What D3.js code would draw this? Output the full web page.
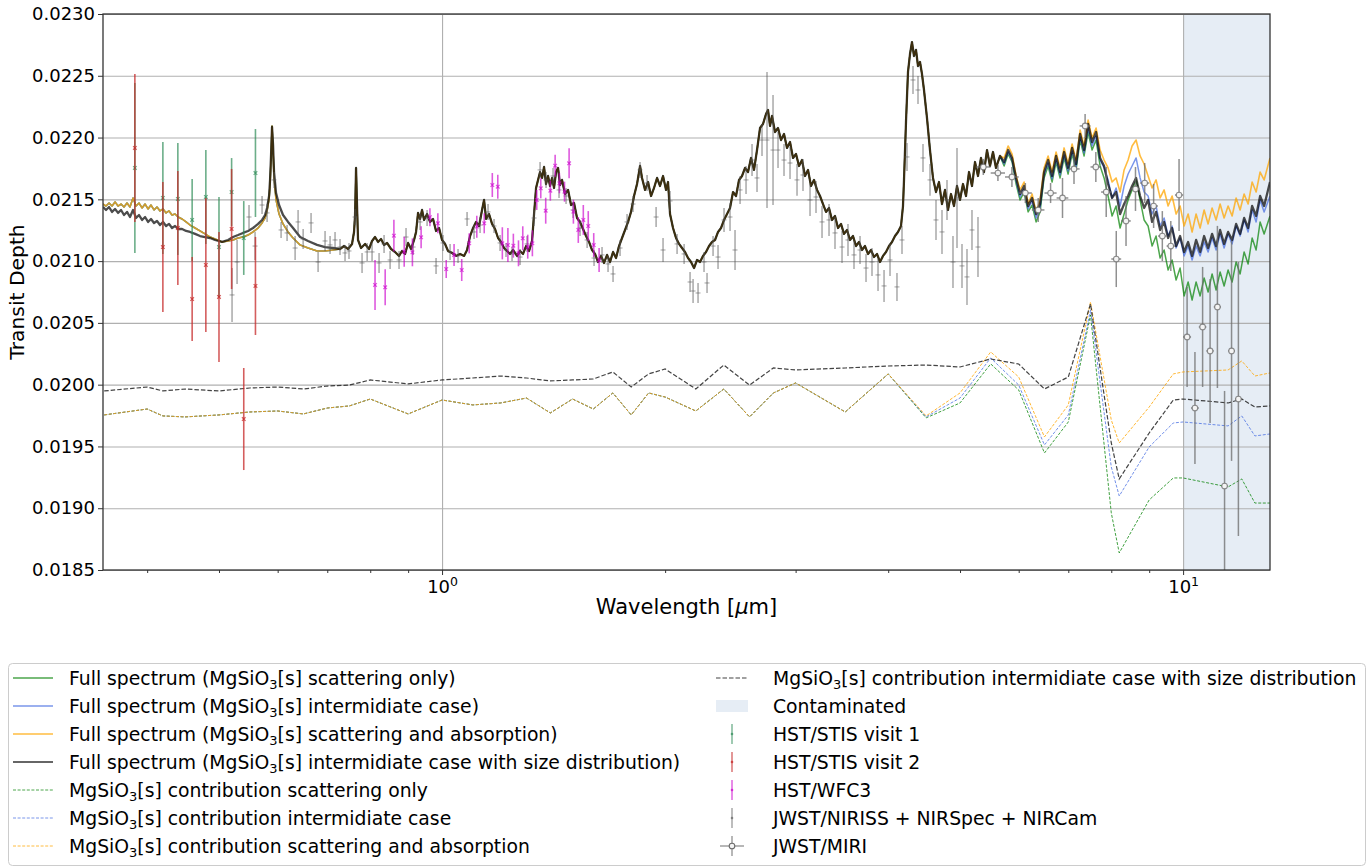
<!DOCTYPE html>
<html>
<head>
<meta charset="utf-8">
<script src="https://cdn.jsdelivr.net/npm/d3@7"></script>
<style>
  body { margin: 0; background: #fff; }
  svg { display: block; font-family: "DejaVu Sans", sans-serif; }
</style>
</head>
<body>
<svg id="chart" width="1372" height="867"></svg>
<script>
// ---------------- axis ticks ----------------
const yTicks = [0.0185, 0.0190, 0.0195, 0.0200, 0.0205, 0.0210, 0.0215, 0.0220, 0.0225, 0.0230];
const xMajorTicks = [1, 10];
const xMinorTicks = [0.4, 0.5, 0.6, 0.7, 0.8, 0.9, 2, 3, 4, 5, 6, 7, 8, 9];
const waveDomain = [0.3487, 13.1];
const contaminatedRange = [10, 13.1];

// ---------------- model spectra (wavelength in micron, transit depth) ----------------
// optical part: the three single-size models coincide here, the size-distribution model differs
const visWave = [0.3487,0.3520,0.3553,0.3586,0.3620,0.3654,0.3688,0.3722,0.3757,0.3792,0.3828,0.3864,0.3900,0.3937,0.3974,0.4011,0.4048,0.4086,0.4124,0.4163,0.4202,0.4242,0.4281,0.4321,0.4362,0.4403,0.4458,0.4514,0.4570,0.4642,0.4714,0.4788,0.4863,0.4939,0.5048,0.5143,0.5223,0.5305,0.5388,0.5473,0.5558,0.5646,0.5716,0.5770,0.5806,0.5842,0.5860,0.5878,0.5896,0.5915,0.5933,0.5970,0.6026,0.6101,0.6197,0.6294,0.6433,0.6594,0.6781,0.6952,0.7126,0.7283];
const visSingleSize = [0.021462,0.021446,0.021470,0.021446,0.021479,0.021446,0.021462,0.021438,0.021470,0.021438,0.021511,0.021446,0.021470,0.021430,0.021462,0.021422,0.021454,0.021414,0.021438,0.021406,0.021422,0.021390,0.021406,0.021373,0.021381,0.021357,0.021341,0.021317,0.021292,0.021268,0.021244,0.021220,0.021195,0.021179,0.021155,0.021163,0.021171,0.021187,0.021195,0.021211,0.021236,0.021268,0.021309,0.021349,0.021406,0.021503,0.021624,0.021835,0.022094,0.021899,0.021673,0.021495,0.021381,0.021301,0.021236,0.021187,0.021131,0.021106,0.021082,0.021082,0.021090,0.021098];
const visSizeDist = [0.021438,0.021414,0.021438,0.021398,0.021422,0.021390,0.021414,0.021373,0.021398,0.021357,0.021414,0.021349,0.021373,0.021333,0.021357,0.021317,0.021341,0.021309,0.021325,0.021292,0.021317,0.021284,0.021301,0.021268,0.021284,0.021260,0.021260,0.021244,0.021236,0.021220,0.021203,0.021195,0.021187,0.021171,0.021155,0.021171,0.021195,0.021211,0.021228,0.021244,0.021268,0.021301,0.021333,0.021373,0.021430,0.021527,0.021657,0.021859,0.022086,0.021940,0.021721,0.021551,0.021454,0.021373,0.021317,0.021268,0.021195,0.021163,0.021131,0.021114,0.021106,0.021098];

// near-infrared part shared by all four models
const midWave = [0.7374,0.7467,0.7560,0.7607,0.7631,0.7655,0.7678,0.7702,0.7775,0.7872,0.7970,0.8045,0.8120,0.8196,0.8273,0.8351,0.8429,0.8534,0.8641,0.8749,0.8831,0.8914,0.8997,0.9082,0.9167,0.9224,0.9281,0.9339,0.9397,0.9456,0.9545,0.9634,0.9724,0.9815,0.9907,1.0000,1.0094,1.0188,1.0316,1.0445,1.0575,1.0707,1.0808,1.0909,1.1011,1.1114,1.1218,1.1323,1.1394,1.1465,1.1572,1.1681,1.1790,1.1900,1.2012,1.2124,1.2238,1.2352,1.2468,1.2624,1.2742,1.2861,1.2982,1.3104,1.3226,1.3309,1.3392,1.3475,1.3559,1.3644,1.3729,1.3814,1.3900,1.3987,1.4074,1.4162,1.4250,1.4339,1.4428,1.4518,1.4654,1.4792,1.4930,1.5070,1.5211,1.5353,1.5497,1.5642,1.5789,1.5936,1.6086,1.6236,1.6389,1.6542,1.6697,1.6853,1.7011,1.7170,1.7331,1.7493,1.7657,1.7823,1.7989,1.8158,1.8328,1.8500,1.8615,1.8789,1.8965,1.9143,1.9322,1.9503,1.9685,1.9870,2.0056,2.0181,2.0307,2.0497,2.0689,2.0883,2.1078,2.1275,2.1475,2.1676,2.1879,2.2084,2.2290,2.2499,2.2710,2.2923,2.3137,2.3354,2.3573,2.3793,2.4016,2.4241,2.4468,2.4697,2.4928,2.5162,2.5397,2.5635,2.5875,2.6118,2.6362,2.6609,2.6858,2.7109,2.7363,2.7534,2.7706,2.7878,2.8139,2.8403,2.8669,2.8937,2.9208,2.9482,2.9758,3.0036,3.0318,3.0601,3.0888,3.1177,3.1469,3.1764,3.2062,3.2362,3.2664,3.2970,3.3280,3.3591,3.3905,3.4223,3.4544,3.4867,3.5194,3.5523,3.5855,3.6191,3.6530,3.6872,3.7217,3.7566,3.7918,3.8273,3.8632,3.8993,3.9358,3.9727,4.0099,4.0474,4.0853,4.1236,4.1622,4.1881,4.2012,4.2273,4.2537,4.2802,4.3069,4.3337,4.3607,4.3879,4.4153,4.4428,4.4705,4.5124,4.5546,4.5972,4.6403,4.6838,4.7276,4.7719,4.8166,4.8617,4.9072,4.9532,4.9996,5.0463,5.0936,5.1413,5.1894,5.2380,5.2871,5.3366,5.3866,5.4371,5.4880,5.5393,5.5912,5.6612];
const midDepth = [0.021122,0.021098,0.021139,0.021236,0.021373,0.021754,0.021454,0.021171,0.021106,0.021139,0.021098,0.021163,0.021195,0.021155,0.021179,0.021131,0.021147,0.021098,0.021074,0.021042,0.021082,0.021058,0.021147,0.021098,0.021171,0.021236,0.021390,0.021341,0.021414,0.021333,0.021381,0.021317,0.021341,0.021244,0.021268,0.021171,0.021139,0.021082,0.021066,0.021042,0.021058,0.021042,0.021090,0.021203,0.021268,0.021317,0.021284,0.021414,0.021495,0.021341,0.021381,0.021301,0.021260,0.021187,0.021155,0.021106,0.021082,0.021058,0.021090,0.021042,0.021082,0.021058,0.021122,0.021082,0.021163,0.021381,0.021592,0.021657,0.021721,0.021673,0.021762,0.021624,0.021689,0.021608,0.021673,0.021592,0.021721,0.021754,0.021616,0.021657,0.021543,0.021576,0.021454,0.021470,0.021349,0.021317,0.021260,0.021203,0.021155,0.021090,0.021058,0.020993,0.021042,0.020985,0.021050,0.020993,0.021074,0.021025,0.021122,0.021187,0.021252,0.021317,0.021398,0.021527,0.021624,0.021770,0.021673,0.021576,0.021640,0.021527,0.021592,0.021673,0.021608,0.021689,0.021576,0.021640,0.021381,0.021268,0.021187,0.021139,0.021106,0.021074,0.021025,0.020993,0.020944,0.021009,0.020993,0.021042,0.021074,0.021122,0.021155,0.021171,0.021236,0.021268,0.021333,0.021381,0.021430,0.021559,0.021527,0.021657,0.021689,0.021754,0.021721,0.021835,0.021738,0.021899,0.022077,0.022110,0.022191,0.022223,0.022094,0.022175,0.022045,0.022077,0.021980,0.022029,0.021916,0.021964,0.021835,0.021867,0.021770,0.021818,0.021689,0.021738,0.021608,0.021657,0.021576,0.021527,0.021462,0.021398,0.021430,0.021333,0.021365,0.021268,0.021301,0.021220,0.021252,0.021171,0.021203,0.021122,0.021155,0.021090,0.021122,0.021058,0.021090,0.021033,0.021058,0.020993,0.021042,0.021074,0.021122,0.021155,0.021203,0.021236,0.021284,0.021446,0.021657,0.022126,0.022531,0.022676,0.022773,0.022660,0.022709,0.022579,0.022612,0.022514,0.022385,0.022158,0.021899,0.021673,0.021559,0.021640,0.021462,0.021576,0.021414,0.021543,0.021446,0.021608,0.021495,0.021624,0.021527,0.021721,0.021608,0.021802,0.021689,0.021835,0.021721,0.021899,0.021770,0.021883,0.021754,0.021851];

// mid-infrared part, where the cloud treatments separate
const tailWave = [5.734,5.806,5.878,5.952,6.026,6.101,6.178,6.255,6.333,6.412,6.492,6.574,6.656,6.739,6.823,6.909,6.995,7.083,7.171,7.261,7.352,7.444,7.537,7.631,7.727,7.823,7.921,8.020,8.120,8.222,8.325,8.429,8.534,8.641,8.749,8.859,8.970,9.082,9.195,9.311,9.427,9.545,9.664,9.785,9.907,10.031,10.157,10.284,10.412,10.543,10.675,10.808,10.943,11.080,11.219,11.359,11.501,11.645,11.791,11.938,12.088,12.239,12.392,12.547,12.704,12.863,13.1];
const tailScatter = [0.021770,0.021867,0.021802,0.021624,0.021495,0.021559,0.021398,0.021454,0.021317,0.021398,0.021673,0.021770,0.021640,0.021802,0.021673,0.021835,0.021705,0.021867,0.021738,0.021980,0.021851,0.022045,0.021899,0.021980,0.021770,0.021673,0.021527,0.021365,0.021446,0.021268,0.021381,0.021495,0.021576,0.021657,0.021495,0.021333,0.021284,0.021122,0.021203,0.021025,0.021090,0.020928,0.021009,0.020847,0.020944,0.020718,0.020831,0.020685,0.020831,0.020718,0.020863,0.020750,0.020896,0.020766,0.020912,0.020799,0.020928,0.020831,0.020993,0.020896,0.021074,0.020977,0.021187,0.021090,0.021317,0.021220,0.021365];
const tailInter = [0.021786,0.021883,0.021818,0.021648,0.021519,0.021584,0.021422,0.021487,0.021349,0.021430,0.021697,0.021794,0.021665,0.021826,0.021697,0.021859,0.021729,0.021891,0.021762,0.022004,0.021875,0.022077,0.021932,0.022013,0.021818,0.021754,0.021657,0.021511,0.021592,0.021446,0.021608,0.021705,0.021770,0.021835,0.021673,0.021559,0.021527,0.021381,0.021446,0.021284,0.021349,0.021203,0.021284,0.021106,0.021187,0.021042,0.021122,0.021009,0.021122,0.021042,0.021155,0.021074,0.021187,0.021090,0.021220,0.021106,0.021220,0.021139,0.021284,0.021203,0.021333,0.021236,0.021414,0.021317,0.021495,0.021398,0.021527];
const tailAbs = [0.021835,0.021932,0.021867,0.021689,0.021576,0.021640,0.021462,0.021543,0.021398,0.021495,0.021754,0.021851,0.021721,0.021883,0.021754,0.021916,0.021786,0.021948,0.021818,0.022061,0.021932,0.022142,0.021996,0.022077,0.021899,0.021818,0.021754,0.021640,0.021673,0.021559,0.021738,0.021818,0.021932,0.021980,0.021851,0.021786,0.021689,0.021592,0.021657,0.021511,0.021576,0.021446,0.021527,0.021381,0.021446,0.021284,0.021381,0.021236,0.021381,0.021268,0.021414,0.021301,0.021430,0.021333,0.021462,0.021349,0.021446,0.021365,0.021511,0.021414,0.021543,0.021462,0.021640,0.021559,0.021721,0.021657,0.021835];
const tailSizeDist = [0.021802,0.021899,0.021835,0.021673,0.021543,0.021608,0.021446,0.021511,0.021381,0.021462,0.021721,0.021818,0.021689,0.021851,0.021721,0.021883,0.021754,0.021916,0.021786,0.022029,0.021899,0.022110,0.021964,0.022045,0.021835,0.021770,0.021624,0.021511,0.021559,0.021381,0.021462,0.021527,0.021608,0.021673,0.021527,0.021430,0.021495,0.021317,0.021398,0.021252,0.021317,0.021187,0.021268,0.021122,0.021203,0.021074,0.021155,0.021042,0.021171,0.021074,0.021203,0.021106,0.021220,0.021122,0.021252,0.021139,0.021236,0.021171,0.021301,0.021220,0.021349,0.021268,0.021446,0.021365,0.021527,0.021446,0.021640];

// ---------------- MgSiO3 cloud contributions ----------------
const contribWave = [0.35,0.40,0.42,0.45,0.50,0.55,0.60,0.65,0.70,0.75,0.80,0.90,1.0,1.1,1.2,1.3,1.4,1.5,1.6,1.7,1.8,1.9,2.0,2.2,2.4,2.6,2.8,3.0,3.5,4.0,4.5,5.0,5.5,6.0,6.5,7.0,7.5,8.0,8.2,9.0,9.7,10,11.5,12,12.5,13.1];
const contribScatter = [0.019755,0.019803,0.019747,0.019739,0.019755,0.019779,0.019787,0.019763,0.019811,0.019828,0.019884,0.019763,0.019876,0.019836,0.019852,0.019892,0.019771,0.019884,0.019803,0.019933,0.019755,0.019933,0.019900,0.019787,0.019965,0.019739,0.019933,0.020014,0.019779,0.020087,0.019731,0.019852,0.020168,0.019957,0.019447,0.019698,0.020564,0.018962,0.018638,0.019067,0.019245,0.019245,0.019172,0.019237,0.019042,0.019042];
const contribInter = [0.019755,0.019803,0.019747,0.019739,0.019755,0.019779,0.019787,0.019763,0.019811,0.019828,0.019884,0.019763,0.019876,0.019836,0.019852,0.019892,0.019771,0.019884,0.019803,0.019933,0.019755,0.019933,0.019900,0.019787,0.019965,0.019739,0.019933,0.020014,0.019779,0.020087,0.019739,0.019892,0.020216,0.019997,0.019512,0.019755,0.020604,0.019334,0.019099,0.019496,0.019690,0.019698,0.019666,0.019747,0.019585,0.019601];
const contribAbs = [0.019755,0.019803,0.019747,0.019739,0.019755,0.019779,0.019787,0.019763,0.019811,0.019828,0.019884,0.019763,0.019876,0.019836,0.019852,0.019892,0.019771,0.019884,0.019803,0.019933,0.019755,0.019933,0.019900,0.019787,0.019965,0.019739,0.019933,0.020014,0.019779,0.020087,0.019747,0.019933,0.020265,0.020062,0.019577,0.019836,0.020669,0.019714,0.019528,0.019819,0.020087,0.020103,0.020119,0.020192,0.020070,0.020095];
const contribSizeDist = [0.019949,0.019981,0.019949,0.019965,0.019949,0.019973,0.019981,0.019965,0.019989,0.019997,0.020038,0.020006,0.020038,0.020054,0.020070,0.020054,0.020030,0.020038,0.020046,0.020103,0.019981,0.020087,0.020127,0.019965,0.020159,0.019997,0.020135,0.020119,0.020135,0.020151,0.020159,0.020143,0.020208,0.020167,0.019965,0.020062,0.020653,0.019528,0.019237,0.019609,0.019876,0.019884,0.019852,0.019884,0.019819,0.019828];

// ---------------- observations ----------------
const stisWave = [0.385,0.42,0.44,0.46,0.48,0.50,0.52,0.54,0.56];
const stis1Depth = [0.021754,0.021511,0.021503,0.021333,0.021519,0.021114,0.021559,0.021187,0.021713];
const stis1Err = [0.000688,0.000453,0.000453,0.000332,0.000380,0.000405,0.000275,0.000299,0.000356];
const stis2Depth = [0.021916,0.021114,0.021268,0.020693,0.020969,0.020710,0.021260,0.019722,0.020799];
const stis2Err = [0.000599,0.000526,0.000461,0.000340,0.000542,0.000526,0.000486,0.000413,0.000397];

const wfc3Wave = [0.812,0.838,0.861,0.889,0.912,0.937,0.963,0.987,1.013,1.038,1.063,1.088,1.114,1.140,1.169,1.189,1.206,1.227,1.248,1.268,1.285,1.305,1.324,1.342,1.359,1.380,1.400,1.421,1.440,1.463,1.484,1.504,1.527,1.551,1.575,1.602,1.629];
const wfc3Depth = [0.020807,0.020788,0.021206,0.021076,0.021071,0.021193,0.021355,0.021306,0.020936,0.021050,0.020928,0.021144,0.021279,0.021306,0.021616,0.021602,0.021144,0.021130,0.021125,0.021063,0.021185,0.021117,0.021144,0.021495,0.021589,0.021408,0.021570,0.021772,0.021630,0.021562,0.021792,0.021400,0.021252,0.021333,0.021284,0.021130,0.021009];
const wfc3Err = [0.000202,0.000146,0.000129,0.000121,0.000113,0.000089,0.000073,0.000081,0.000073,0.000089,0.000089,0.000081,0.000089,0.000081,0.000097,0.000097,0.000130,0.000138,0.000097,0.000105,0.000097,0.000097,0.000105,0.000081,0.000081,0.000105,0.000081,0.000089,0.000081,0.000081,0.000121,0.000097,0.000105,0.000121,0.000121,0.000097,0.000097];

const jwstWave = [0.5207,0.5289,0.5489,0.5593,0.5716,0.5806,0.5933,0.6064,0.6178,0.6334,0.6393,0.6494,0.6656,0.6803,0.6952,0.7061,0.7171,0.7283,0.7397,0.7489,0.7631,0.7799,0.7923,0.8045,0.8222,0.8351,0.8509,0.8749,0.8941,0.9139,0.9340,0.9545,0.9815,1.0031,1.0252,1.0509,1.0808,1.1045,1.1254,1.1536,1.1753,1.1975,1.2199,1.2429,1.2743,1.3022,1.3309,1.3560,1.3814,1.4118,1.4383,1.4700,1.5023,1.5354,1.5694,1.6036,1.6439,1.6749,1.7011,1.7386,1.7768,1.8101,1.8500,1.8908,1.9446,1.9870,2.0308,2.0755,2.1214,2.1610,2.1813,2.2153,2.2569,2.2781,2.3211,2.3573,2.4016,2.4468,2.4851,2.5243,2.5716,2.6199,2.6609,2.7025,2.7448,2.7965,2.8403,2.8937,2.9482,3.0130,3.0696,3.1373,3.1962,3.2565,3.3280,3.3905,3.4653,3.5301,3.5967,3.6646,3.7336,3.8036,3.8754,3.9486,4.0226,4.1106,4.1751,4.2405,4.3203,4.3879,4.4566,4.5546,4.6403,4.7276,4.8017,4.8919,4.9532,5.0307,5.1095,5.1894,5.2871];
const jwstDepth = [0.020726,0.020993,0.021357,0.021122,0.021454,0.021390,0.021657,0.021252,0.021228,0.021106,0.021317,0.021179,0.021309,0.020993,0.021163,0.021131,0.021171,0.021114,0.021066,0.021082,0.021357,0.020985,0.021074,0.021074,0.020985,0.021139,0.021009,0.021009,0.021195,0.021114,0.021317,0.021349,0.020961,0.021147,0.021074,0.021042,0.021341,0.021236,0.021292,0.021398,0.021284,0.021147,0.021090,0.021058,0.021033,0.021139,0.021349,0.021738,0.021657,0.021689,0.021576,0.021527,0.021414,0.021268,0.021171,0.021025,0.021050,0.020977,0.020896,0.021106,0.021317,0.021462,0.021738,0.021632,0.021357,0.021090,0.021487,0.021139,0.021058,0.020831,0.020758,0.020742,0.020993,0.020823,0.021122,0.021033,0.021333,0.021357,0.021090,0.021576,0.021657,0.021818,0.021673,0.021980,0.021980,0.021899,0.021899,0.021818,0.021794,0.021657,0.021697,0.021495,0.021519,0.021317,0.021333,0.021228,0.021114,0.021171,0.021050,0.021090,0.020944,0.020993,0.020888,0.020799,0.021009,0.020791,0.021171,0.021843,0.022466,0.022385,0.021835,0.021657,0.021333,0.021236,0.021495,0.020993,0.021511,0.020961,0.020872,0.021252,0.021114];
const jwstErr = [0.000219,0.000178,0.000097,0.000113,0.000073,0.000073,0.000065,0.000065,0.000065,0.000097,0.000097,0.000081,0.000081,0.000081,0.000081,0.000073,0.000065,0.000065,0.000065,0.000065,0.000065,0.000081,0.000073,0.000073,0.000081,0.000073,0.000073,0.000073,0.000073,0.000065,0.000065,0.000065,0.000065,0.000065,0.000065,0.000057,0.000057,0.000057,0.000065,0.000065,0.000057,0.000065,0.000057,0.000057,0.000065,0.000065,0.000065,0.000065,0.000065,0.000065,0.000065,0.000065,0.000065,0.000065,0.000065,0.000065,0.000065,0.000065,0.000065,0.000065,0.000065,0.000065,0.000065,0.000065,0.000081,0.000097,0.000081,0.000081,0.000081,0.000081,0.000097,0.000081,0.000081,0.000081,0.000081,0.000097,0.000097,0.000113,0.000162,0.000113,0.000113,0.000129,0.000113,0.000129,0.000550,0.000445,0.000146,0.000129,0.000129,0.000129,0.000129,0.000129,0.000129,0.000129,0.000129,0.000129,0.000129,0.000129,0.000113,0.000113,0.000113,0.000113,0.000129,0.000129,0.000129,0.000113,0.000113,0.000113,0.000113,0.000113,0.000113,0.000129,0.000162,0.000178,0.000162,0.000210,0.000405,0.000178,0.000227,0.000162,0.000243];

const miriWave = [5.375,5.625,5.875,6.125,6.375,6.625,6.875,7.125,7.375,7.625,7.875,8.125,8.375,8.625,8.875,9.125,9.375,9.625,9.875,10.125,10.375,10.625,10.875,11.125,11.375,11.625,11.875];
const miriBinHalfWidth = 0.125;
const miriDepth = [0.021762,0.021713,0.021681,0.021551,0.021414,0.021551,0.021511,0.021746,0.022094,0.021762,0.021559,0.021017,0.021325,0.021584,0.021632,0.021446,0.021203,0.021122,0.021535,0.020386,0.019811,0.020467,0.020273,0.020629,0.019180,0.020273,0.019884];
const miriErr = [0.000065,0.000065,0.000081,0.000081,0.000097,0.000081,0.000162,0.000121,0.000097,0.000121,0.000202,0.000227,0.000202,0.000178,0.000162,0.000178,0.000202,0.000202,0.000291,0.000405,0.000453,0.000486,0.000583,0.000656,0.000769,0.000890,0.001109];

// ---------------- build series ----------------
const specWave = [...visWave, ...midWave, ...tailWave];
const fullScatter  = [...visSingleSize, ...midDepth, ...tailScatter];
const fullInter    = [...visSingleSize, ...midDepth, ...tailInter];
const fullAbs      = [...visSingleSize, ...midDepth, ...tailAbs];
const fullSizeDist = [...visSizeDist,   ...midDepth, ...tailSizeDist];

const COLORS = {
  scatter: "#008000",
  inter: "#4169e1",
  abs: "#ffa500",
  sizeDist: "#000000",
  stis1: "#2e8b57",
  stis2: "#c62828",
  wfc3: "#cc00cc",
  jwst: "#555555",
  miri: "#6b6b6b",
  contaminated: "#e6edf5"
};

// ---------------- layout ----------------
const L = 103, R = 1270, T = 14, B = 570;
const svg = d3.select("#chart");
const x = d3.scaleLog().domain(waveDomain).range([L, R]);
const y = d3.scaleLinear().domain([yTicks[0], yTicks[yTicks.length - 1]]).range([B, T]);

svg.append("defs").append("clipPath").attr("id", "plotclip")
  .append("rect").attr("x", L).attr("y", T).attr("width", R - L).attr("height", B - T);

// contaminated wavelength range
svg.append("rect")
  .attr("x", x(contaminatedRange[0])).attr("y", T)
  .attr("width", x(contaminatedRange[1]) - x(contaminatedRange[0]))
  .attr("height", B - T)
  .attr("fill", COLORS.contaminated);

// grid
const gridY = svg.append("g").attr("transform", `translate(${L},0)`)
  .call(d3.axisLeft(y).tickValues(yTicks).tickSize(-(R - L)).tickFormat(""));
const gridX = svg.append("g").attr("transform", `translate(0,${B})`)
  .call(d3.axisBottom(x).tickValues(xMajorTicks).tickSize(-(B - T)).tickFormat(""));
[gridY, gridX].forEach(g => {
  g.select(".domain").remove();
  g.selectAll("line").attr("stroke", "#b0b0b0").attr("stroke-width", 1.1);
});

const plot = svg.append("g").attr("clip-path", "url(#plotclip)");
const line = d3.line().x(d => x(d[0])).y(d => y(d[1]));

// cloud contributions (dashed)
const contribs = [
  { v: contribScatter, c: COLORS.scatter, w: 1.0, dash: "3,1.6", o: 0.75 },
  { v: contribInter, c: COLORS.inter, w: 1.0, dash: "3,1.6", o: 0.75 },
  { v: contribAbs, c: COLORS.abs, w: 1.0, dash: "3,1.6", o: 0.8 },
  { v: contribSizeDist, c: "#222222", w: 1.2, dash: "4.5,2", o: 0.85 }
];
contribs.forEach(s => {
  plot.append("path").datum(d3.zip(contribWave, s.v)).attr("d", line)
    .attr("fill", "none").attr("stroke", s.c).attr("stroke-width", s.w)
    .attr("stroke-dasharray", s.dash).attr("stroke-opacity", s.o);
});

// full spectra
const fulls = [
  { v: fullScatter, c: COLORS.scatter, w: 1.5, o: 0.7 },
  { v: fullInter, c: COLORS.inter, w: 1.5, o: 0.7 },
  { v: fullAbs, c: COLORS.abs, w: 1.6, o: 0.75 },
  { v: fullSizeDist, c: COLORS.sizeDist, w: 2.3, o: 0.7 }
];
fulls.forEach(s => {
  plot.append("path").datum(d3.zip(specWave, s.v)).attr("d", line)
    .attr("fill", "none").attr("stroke", s.c).attr("stroke-width", s.w)
    .attr("stroke-opacity", s.o).attr("stroke-linejoin", "round");
});

// error bars
function errorbars(waves, depths, errs, opt) {
  const g = plot.append("g").attr("stroke", opt.color).attr("stroke-opacity", opt.opacity)
    .attr("stroke-width", opt.width).attr("fill", "none");
  waves.forEach((w, i) => {
    const cx = x(w), cy = y(depths[i]);
    g.append("line").attr("x1", cx).attr("x2", cx)
      .attr("y1", y(depths[i] - errs[i])).attr("y2", y(depths[i] + errs[i]));
    if (opt.marker === "x") {
      const m = 1.8;
      g.append("path").attr("d", `M${cx - m},${cy - m}L${cx + m},${cy + m}M${cx - m},${cy + m}L${cx + m},${cy - m}`)
        .attr("stroke-width", 1.2);
    } else if (opt.marker === "dash") {
      g.append("line").attr("x1", cx - 2.5).attr("x2", cx + 2.5).attr("y1", cy).attr("y2", cy).attr("stroke-width", 1);
    } else if (opt.marker === "circle") {
      g.append("line").attr("x1", x(w - opt.xerr)).attr("x2", x(w + opt.xerr)).attr("y1", cy).attr("y2", cy);
      g.append("circle").attr("cx", cx).attr("cy", cy).attr("r", 2.8)
        .attr("fill", "#f4f4f4").attr("stroke-width", 1.1);
    }
  });
}
errorbars(jwstWave, jwstDepth, jwstErr, { color: COLORS.jwst, opacity: 0.55, width: 1.4, marker: "dash" });
errorbars(stisWave, stis1Depth, stis1Err, { color: COLORS.stis1, opacity: 0.7, width: 1.6, marker: "x" });
errorbars(stisWave, stis2Depth, stis2Err, { color: COLORS.stis2, opacity: 0.75, width: 1.6, marker: "x" });
errorbars(wfc3Wave, wfc3Depth, wfc3Err, { color: COLORS.wfc3, opacity: 0.65, width: 1.6, marker: "x" });
errorbars(miriWave, miriDepth, miriErr, { color: COLORS.miri, opacity: 0.75, width: 1.5, marker: "circle", xerr: miriBinHalfWidth });

// axes
const axisColor = "#333";
const yAxis = svg.append("g").attr("transform", `translate(${L},0)`)
  .call(d3.axisLeft(y).tickValues(yTicks).tickFormat(d3.format(".4f")).tickSize(5).tickPadding(3));
yAxis.selectAll("text").attr("font-size", 18).attr("fill", "#000").attr("font-family", "DejaVu Sans");
const xAxis = svg.append("g").attr("transform", `translate(0,${B})`)
  .call(d3.axisBottom(x).tickValues(xMajorTicks).tickFormat("").tickSize(5));
const xMinor = svg.append("g").attr("transform", `translate(0,${B})`)
  .call(d3.axisBottom(x).tickValues(xMinorTicks).tickFormat("").tickSize(3));
[yAxis, xAxis, xMinor].forEach(g => {
  g.select(".domain").remove();
  g.selectAll("line").attr("stroke", axisColor).attr("stroke-width", 1);
});
// decade labels written as powers of ten
xAxis.selectAll(".tick").each(function (d) {
  const t = d3.select(this).append("text").attr("y", 22.5).attr("fill", "#000")
    .attr("font-size", 18).attr("text-anchor", "middle").attr("font-family", "DejaVu Sans");
  t.append("tspan").text("10");
  t.append("tspan").attr("font-size", 12.5).attr("dy", -7).text(Math.round(Math.log10(d)));
});

// frame
svg.append("rect").attr("x", L).attr("y", T).attr("width", R - L).attr("height", B - T)
  .attr("fill", "none").attr("stroke", axisColor).attr("stroke-width", 1.3);

// axis titles
svg.append("text").attr("transform", `translate(24,${(T + B) / 2}) rotate(-90)`)
  .attr("text-anchor", "middle").attr("font-size", 20.3).text("Transit Depth");
const xt = svg.append("text").attr("x", (L + R) / 2).attr("y", 614)
  .attr("text-anchor", "middle").attr("font-size", 21);
xt.append("tspan").text("Wavelength [");
xt.append("tspan").attr("font-style", "italic").text("\u03bc");
xt.append("tspan").text("m]");

// ---------------- legend ----------------
const legendLeft = [
  { label: "Full spectrum (MgSiO_3[s] scattering only)", kind: "line", c: COLORS.scatter, w: 1.3, o: 0.7 },
  { label: "Full spectrum (MgSiO_3[s] intermidiate case)", kind: "line", c: COLORS.inter, w: 1.3, o: 0.7 },
  { label: "Full spectrum (MgSiO_3[s] scattering and absorption)", kind: "line", c: COLORS.abs, w: 1.3, o: 0.75 },
  { label: "Full spectrum (MgSiO_3[s] intermidiate case with size distribution)", kind: "line", c: COLORS.sizeDist, w: 2.2, o: 0.6 },
  { label: "MgSiO_3[s] contribution scattering only", kind: "dash", c: COLORS.scatter, w: 1.0, o: 0.7, dash: "3,1.6" },
  { label: "MgSiO_3[s] contribution intermidiate case", kind: "dash", c: COLORS.inter, w: 1.0, o: 0.7, dash: "3,1.6" },
  { label: "MgSiO_3[s] contribution scattering and absorption", kind: "dash", c: COLORS.abs, w: 1.0, o: 0.75, dash: "3,1.6" }
];
const legendRight = [
  { label: "MgSiO_3[s] contribution intermidiate case with size distribution", kind: "dash", c: "#222", w: 1.2, o: 0.85, dash: "4.5,2" },
  { label: "Contaminated", kind: "patch", c: COLORS.contaminated },
  { label: "HST/STIS visit 1", kind: "err", c: COLORS.stis1, o: 0.7 },
  { label: "HST/STIS visit 2", kind: "err", c: COLORS.stis2, o: 0.75 },
  { label: "HST/WFC3", kind: "err", c: COLORS.wfc3, o: 0.7 },
  { label: "JWST/NIRISS + NIRSpec + NIRCam", kind: "err", c: COLORS.jwst, o: 0.6 },
  { label: "JWST/MIRI", kind: "miri", c: COLORS.miri, o: 0.75 }
];

const leg = svg.append("g");
leg.append("rect").attr("x", 8.5).attr("y", 663.5).attr("width", 1357).attr("height", 202).attr("rx", 4)
  .attr("fill", "#fff").attr("fill-opacity", 0.85).attr("stroke", "#cccccc").attr("stroke-width", 1);

function richText(sel, str) {
  const parts = str.split("_3");
  sel.append("tspan").text(parts[0]);
  for (let i = 1; i < parts.length; i++) {
    sel.append("tspan").attr("font-size", 13).attr("dy", 4.5).text("3");
    sel.append("tspan").attr("dy", -4.5).text(parts[i]);
  }
}

function drawEntries(items, hx0, hx1, tx) {
  items.forEach((it, i) => {
    const cy = 678 + i * 28;
    const g = leg.append("g");
    const mid = (hx0 + hx1) / 2;
    if (it.kind === "line" || it.kind === "dash") {
      g.append("line").attr("x1", hx0).attr("x2", hx1).attr("y1", cy).attr("y2", cy)
        .attr("stroke", it.c).attr("stroke-width", it.w).attr("stroke-opacity", it.o)
        .attr("stroke-dasharray", it.dash || null);
    } else if (it.kind === "patch") {
      g.append("rect").attr("x", hx0).attr("y", cy - 6).attr("width", hx1 - hx0).attr("height", 12).attr("fill", it.c);
    } else if (it.kind === "err") {
      g.append("line").attr("x1", mid).attr("x2", mid).attr("y1", cy - 10).attr("y2", cy + 10)
        .attr("stroke", it.c).attr("stroke-opacity", it.o).attr("stroke-width", 1.3);
      g.append("circle").attr("cx", mid).attr("cy", cy).attr("r", 1.3).attr("fill", it.c).attr("fill-opacity", it.o);
    } else if (it.kind === "miri") {
      g.append("line").attr("x1", mid).attr("x2", mid).attr("y1", cy - 10).attr("y2", cy + 10)
        .attr("stroke", it.c).attr("stroke-opacity", it.o).attr("stroke-width", 1.3);
      g.append("line").attr("x1", hx0 + 4).attr("x2", hx1 - 4).attr("y1", cy).attr("y2", cy)
        .attr("stroke", it.c).attr("stroke-opacity", it.o).attr("stroke-width", 1.3);
      g.append("circle").attr("cx", mid).attr("cy", cy).attr("r", 2.8).attr("fill", "#f4f4f4")
        .attr("stroke", it.c).attr("stroke-width", 1.1);
    }
    const t = g.append("text").attr("x", tx).attr("y", cy).attr("dy", "0.36em").attr("font-size", 18.8).attr("fill", "#000");
    richText(t, it.label);
  });
}
drawEntries(legendLeft, 13, 53, 69);
drawEntries(legendRight, 716, 748, 773);
</script>
</body>
</html>
